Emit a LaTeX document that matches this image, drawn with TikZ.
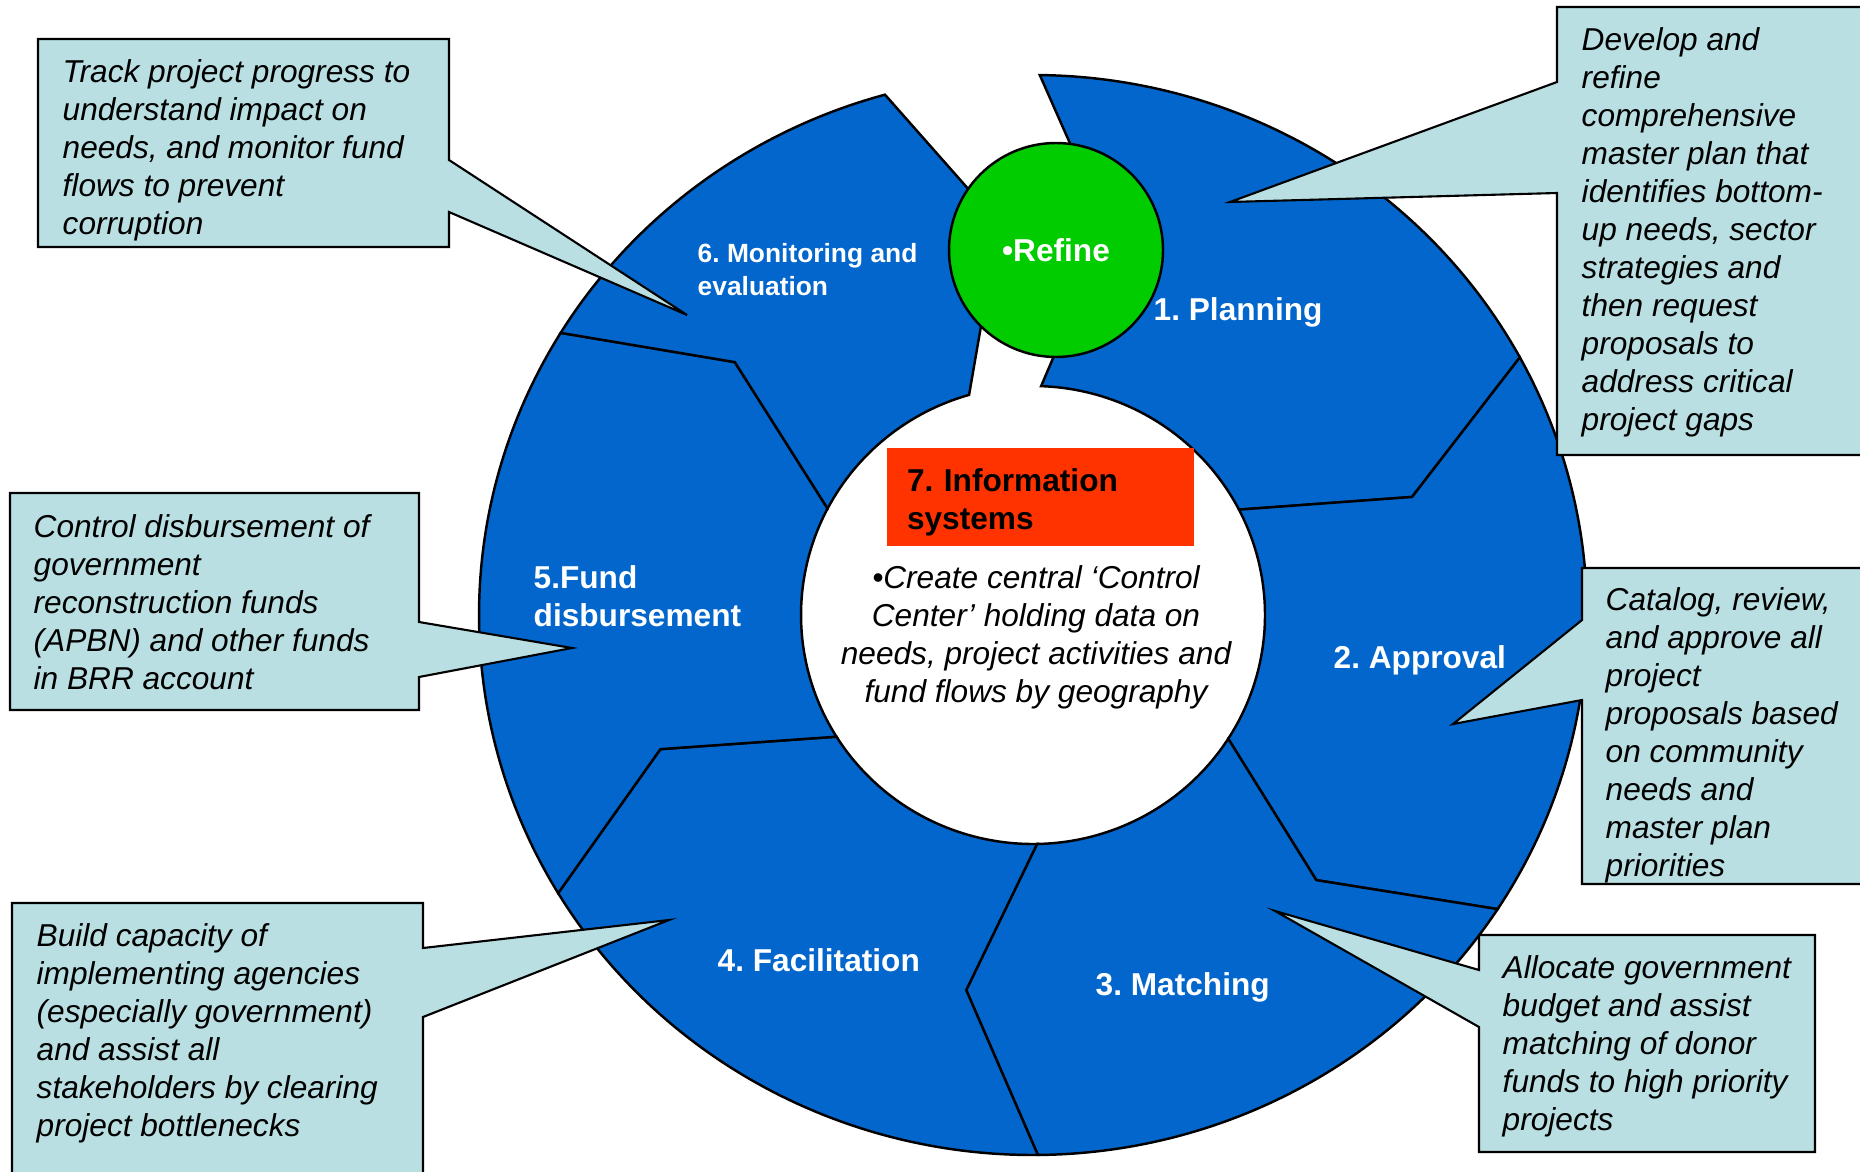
\documentclass[tikz,border=0pt]{standalone}
\usepackage{fontspec}
\setmainfont{Liberation Sans}
\frenchspacing
\definecolor{cyc_blue}{RGB}{2, 102, 204}
\definecolor{cyc_green}{RGB}{0, 204, 0}
\definecolor{cyc_red}{RGB}{255, 51, 0}
\definecolor{cyc_note}{RGB}{185, 223, 226}
\usetikzlibrary{calc}

\begin{document}
\begin{tikzpicture}[
    seg/.style={fill=cyc_blue, draw=black, line width=0.7pt},
    note/.style={fill=cyc_note, draw=black, line width=0.6pt},
    notetext/.style={anchor=north west, inner sep=0pt, align=left,
        font=\fontsize{9}{10.8}\selectfont\itshape},
    seglabel/.style={text=white, inner sep=0pt, align=left,
        font=\fontsize{9}{10.8}\selectfont\bfseries}]
  \useasboundingbox (0,0) rectangle (18.6,11.71);
  \clip (0,0) rectangle (18.6,11.71);
  \fill[white] (0,0) rectangle (18.6,11.71);
  \coordinate (c) at (10.33,5.56);

  % six chevrons: tail outer/inner/notch, head outer/inner/tip
  \foreach \oa/\ia/\va/\ra/\ob/\ib/\vb/\rb in {
      89.3/88/79/3.93/28.5/27.4/17.3/3.97,
      28.5/27.4/17.3/3.97/-33/-32.7/-43.1/3.88,
      -33/-32.7/-43.1/3.88/-89.5/-89/-100.1/3.81,
      270.5/271/259.9/3.81/211/212.1/199.8/3.96,
      211/212.1/199.8/3.96/148.5/152.3/139.7/3.91,
      148.5/152.3/139.7/3.91/105.5/106/95/3.93}
    \filldraw[seg] ($(c)+(\oa:5.54 and 5.40)$)
      arc[start angle=\oa, end angle=\ob, x radius=5.54, y radius=5.40]
      -- ($(c)+(\vb:\rb)$) -- ($(c)+(\ib:2.32 and 2.29)$)
      arc[start angle=\ib, end angle=\ia, x radius=2.32, y radius=2.29]
      -- ($(c)+(\va:\ra)$) -- cycle;

  \node[circle, fill=cyc_green, draw=black, line width=0.7pt,
        minimum size=2.14cm, inner sep=0pt, text=white,
        font=\fontsize{9}{10.8}\selectfont\bfseries] (refine) at (10.56,9.21) {•Refine};

  \node[fill=cyc_red, text width=2.67cm, inner xsep=0.2cm, inner ysep=0pt,
        minimum height=0.98cm, text height=9.8pt, align=left,
        font=\fontsize{9}{10.8}\selectfont\bfseries] (info) at (10.405,6.74)
        {7. Information\\systems};
  \node[anchor=north, inner sep=0pt, align=center,
        font=\fontsize{9}{10.8}\selectfont\itshape] (centre) at (10.36,6.06)
        {•Create central ‘Control\\Center’ holding data on\\needs, project activities and\\fund flows by geography};

  % stage labels
  \node[seglabel, anchor=base west] (planning) at (11.53,8.51) {1. Planning};
  \node[seglabel, anchor=base west] (approval) at (13.33,5.03) {2. Approval};
  \node[seglabel, anchor=base west] (matching) at (10.95,1.76) {3. Matching};
  \node[seglabel, anchor=base west] (facil) at (7.17,2.00) {4. Facilitation};
  \node[seglabel, anchor=north west] (fund) at (5.33,6.06) {5.Fund\\disbursement};
  \node[seglabel, anchor=north west, font=\fontsize{7.5}{9.3}\selectfont\bfseries]
        (monitor) at (6.97,9.28) {6. Monitoring and\\evaluation};

  % callouts
  \filldraw[note] (0.38,11.32) -- (4.49,11.32) -- (4.49,10.11) -- (6.87,8.56)
    -- (4.49,9.59) -- (4.49,9.24) -- (0.38,9.24) -- cycle;
  \node[notetext] (track) at (0.62,11.12)
    {Track project progress to\\understand impact on\\needs, and monitor fund\\flows to prevent\\corruption};

  \filldraw[note] (15.57,11.64) -- (18.70,11.64) -- (18.70,7.16) -- (15.57,7.16)
    -- (15.57,9.78) -- (12.30,9.69) -- (15.57,10.89) -- cycle;
  \node[notetext] (develop) at (15.81,11.44)
    {Develop and\\refine\\comprehensive\\master plan that\\identifies bottom-\\up needs, sector\\strategies and\\then request\\proposals to\\address critical\\project gaps};

  \filldraw[note] (0.10,6.78) -- (4.19,6.78) -- (4.19,5.49) -- (5.72,5.23)
    -- (4.19,4.94) -- (4.19,4.61) -- (0.10,4.61) -- cycle;
  \node[notetext] (control) at (0.33,6.57)
    {Control disbursement of\\government\\reconstruction funds\\(APBN) and other funds\\in BRR account};

  \filldraw[note] (15.82,6.03) -- (18.70,6.03) -- (18.70,2.87) -- (15.82,2.87)
    -- (15.82,4.71) -- (14.53,4.47) -- (15.82,5.51) -- cycle;
  \node[notetext] (catalog) at (16.05,5.84)
    {Catalog, review,\\and approve all\\project\\proposals based\\on community\\needs and\\master plan\\priorities};

  \filldraw[note] (0.12,2.68) -- (4.23,2.68) -- (4.23,2.23) -- (6.69,2.51)
    -- (4.23,1.54) -- (4.23,-0.20) -- (0.12,-0.20) -- cycle;
  \node[notetext] (build) at (0.36,2.48)
    {Build capacity of\\implementing agencies\\(especially government)\\and assist all\\stakeholders by clearing\\project bottlenecks};

  \filldraw[note] (14.79,2.36) -- (18.15,2.36) -- (18.15,0.19) -- (14.79,0.19)
    -- (14.79,1.44) -- (12.75,2.60) -- (14.79,2.01) -- cycle;
  \node[notetext] (allocate) at (15.02,2.16)
    {Allocate government\\budget and assist\\matching of donor\\funds to high priority\\projects};
\end{tikzpicture}
\end{document}
